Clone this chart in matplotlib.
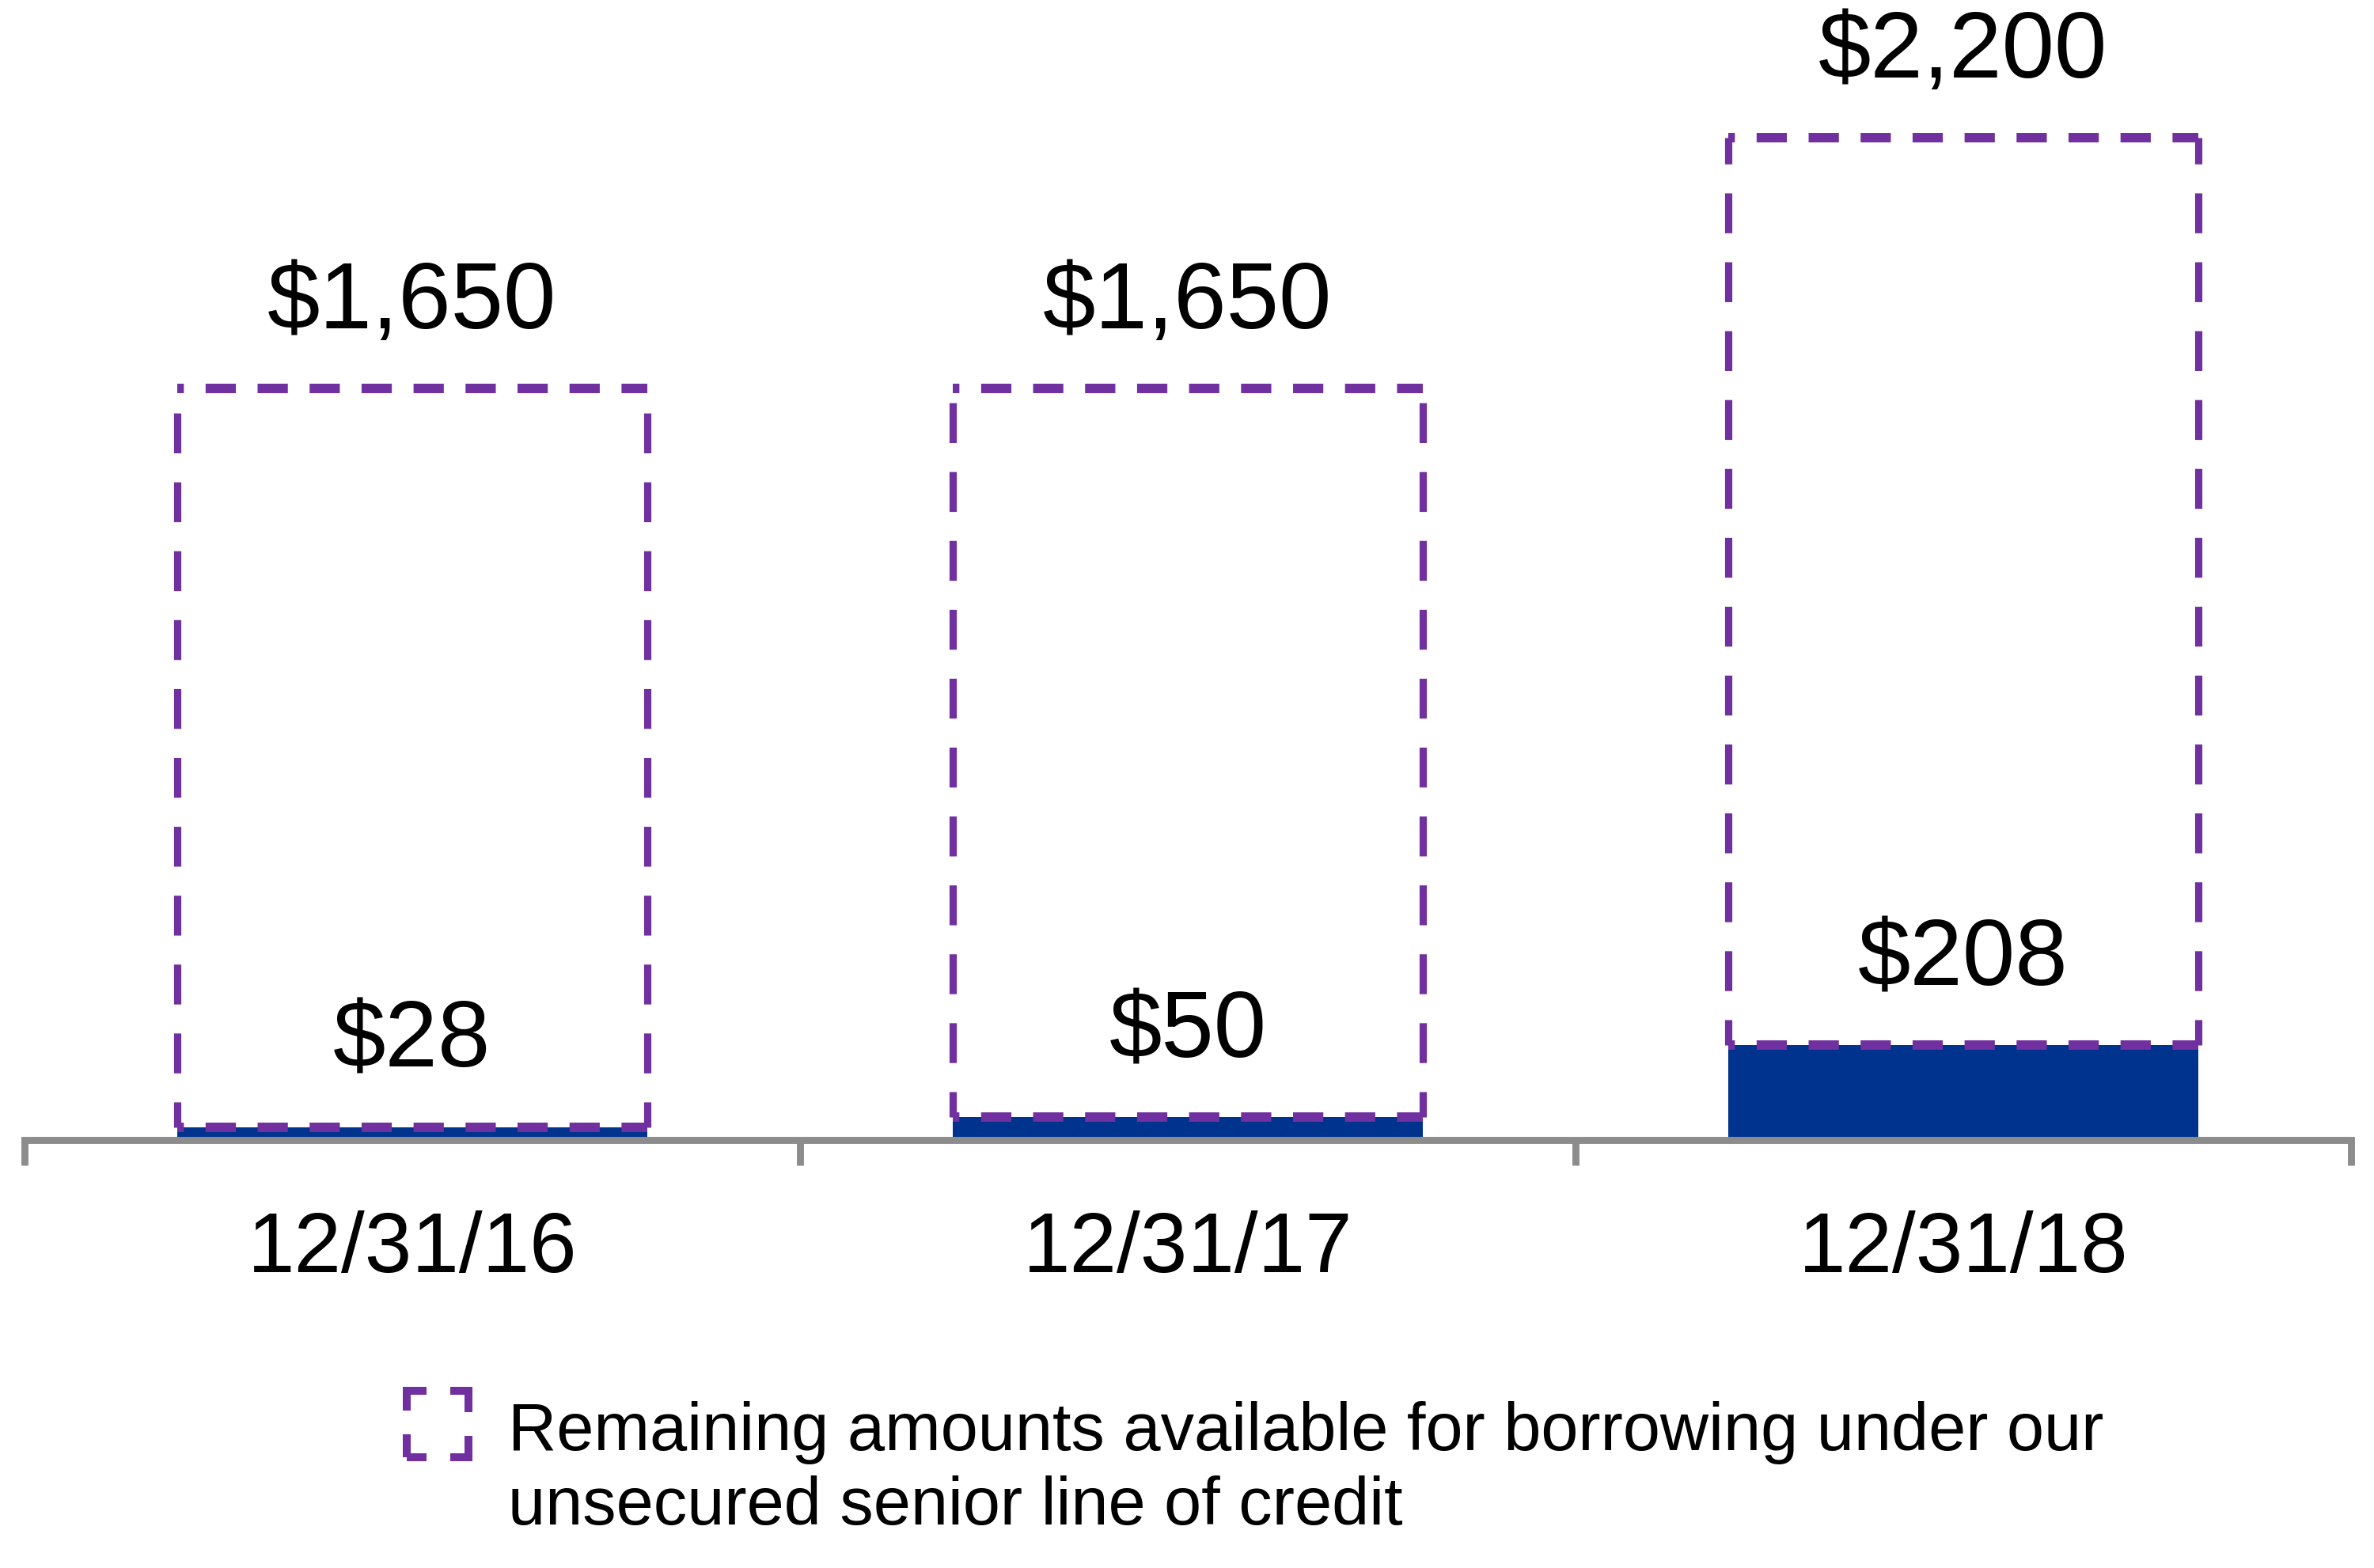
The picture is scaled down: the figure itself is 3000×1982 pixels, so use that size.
import matplotlib
matplotlib.use("Agg")
import matplotlib.pyplot as plt
from matplotlib.patches import Rectangle

plt.rcParams['font.family'] = ['Liberation Sans', 'DejaVu Sans']

# データ
dates = ["12/31/16", "12/31/17", "12/31/18"]
used = [28, 50, 208]
total_line = [1650, 1650, 2200]
remaining = [t - u for t, u in zip(total_line, used)]
used_labels = ["$28", "$50", "$208"]
total_labels = ["$1,650", "$1,650", "$2,200"]
legend_text = "Remaining amounts available for borrowing under our\nunsecured senior line of credit"

blue = '#00338D'
purple = '#7030A0'
gray = '#8C8C8C'

fig = plt.figure(figsize=(15, 9.91), dpi=200)
ax = fig.add_axes([0.0103, 0.2729, 0.9800, 0.7271])

x = range(len(dates))
ax.bar(x, used, width=0.606, color=blue, zorder=2)
boxes = ax.bar(x, remaining, bottom=used, width=0.606, facecolor='none',
               edgecolor='none', zorder=3)

# 点線の枠 (縦と横で破線の長さが違う)
for p in boxes.patches:
    x0, y0 = p.get_x(), p.get_y()
    x1, y1 = x0 + p.get_width(), y0 + p.get_height()
    ax.vlines([x0, x1], y0, y1, color=purple, linewidth=3.3,
              linestyle=(2, (5.5, 4)), zorder=3)
    ax.hlines([y0, y1], x0, x1, color=purple, linewidth=4.3,
              linestyle=(2.5, (3.2, 2.3)), zorder=4)

off = 185
for i in x:
    ax.text(i, total_line[i] + off, total_labels[i], ha='center', va='center', fontsize=43)
    ax.text(i, used[i] + off, used_labels[i], ha='center', va='center', fontsize=43)

ax.set_xlim(-0.5, 2.5)
ax.set_ylim(0, 2503)

for s in ['top', 'right', 'left']:
    ax.spines[s].set_visible(False)
ax.spines['bottom'].set_color(gray)
ax.spines['bottom'].set_linewidth(3.2)
ax.set_yticks([])

ax.set_xticks([0, 1, 2])
ax.set_xticklabels(dates, fontsize=38.5)
ax.set_xticks([-0.5, 0.5, 1.5, 2.5], minor=True)
ax.tick_params(axis='x', which='major', length=0, pad=32)
ax.tick_params(axis='x', which='minor', length=11.5, width=3.2, color=gray)

# 凡例
fig.patches.append(Rectangle((0.1713, 0.0706), 0.026, 0.0424, transform=fig.transFigure,
                             facecolor='none', edgecolor=purple, linewidth=3.6,
                             linestyle=(2.5, (5, 3))))
fig.text(0.214, 0.0625, legend_text, ha='left', va='center', fontsize=30.5, linespacing=1.22)

plt.savefig('out.png', dpi=200)
